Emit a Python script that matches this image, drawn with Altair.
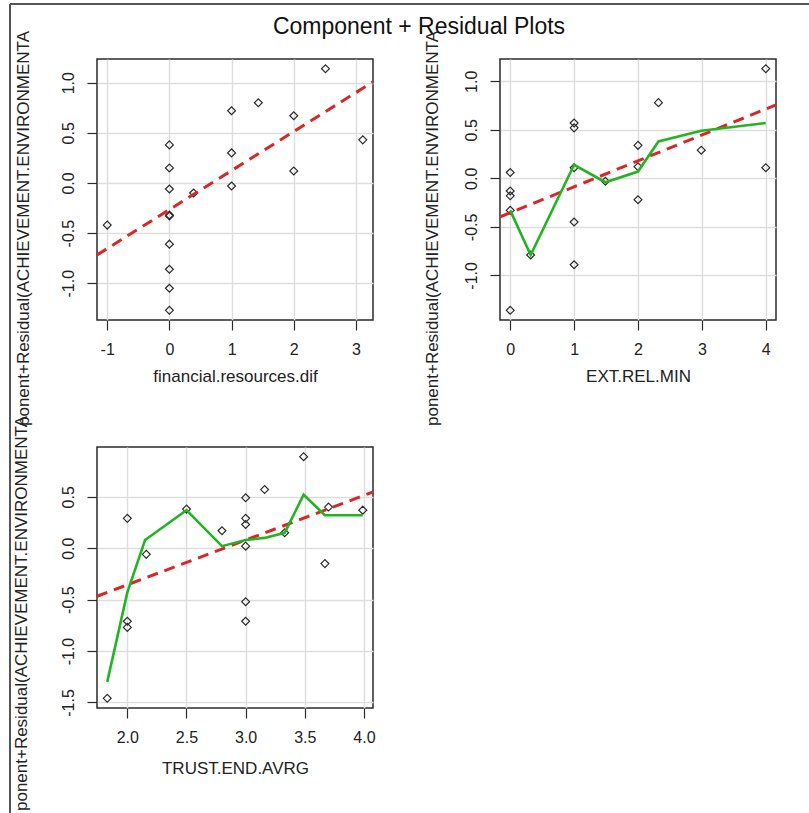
import altair as alt
import pandas as pd

TITLE = "Component + Residual Plots"
YLAB = "ponent+Residual(ACHIEVEMENT.ENVIRONMENTA"

# Panel 1: financial.resources.dif
p1_name = "financial.resources.dif"
p1_x = [-1.0, 0, 0, 0, 0, 0, 0, 0, 0, 0, 0.39, 1, 1, 1, 1.43, 2, 2, 2.51, 3.11]
p1_y = [-0.42, 0.38, 0.15, -0.06, -0.32, -0.33, -0.61, -0.86, -1.05, -1.27,
        -0.10, 0.72, 0.30, -0.03, 0.80, 0.67, 0.12, 1.14, 0.43]
p1_fit = (-0.265, 0.389)          # intercept, slope
p1_xticks = [-1, 0, 1, 2, 3]
p1_yticks = [-1.0, -0.5, 0.0, 0.5, 1.0]

# Panel 2: EXT.REL.MIN
p2_name = "EXT.REL.MIN"
p2_x = [0, 0, 0, 0, 0, 0.32, 1, 1, 1, 1, 1, 1.49, 2, 2, 2, 2.32, 2.99, 4, 4]
p2_y = [0.06, -0.13, -0.18, -0.33, -1.36, -0.79, 0.57, 0.52, 0.11, -0.45, -0.89,
        -0.03, 0.34, 0.12, -0.22, 0.78, 0.29, 1.13, 0.11]
p2_fit = (-0.354, 0.267)
p2_smooth_x = [0, 0.32, 1, 1.49, 2, 2.32, 2.99, 4]
p2_smooth_y = [-0.33, -0.79, 0.14, -0.04, 0.07, 0.38, 0.49, 0.57]
p2_xticks = [0, 1, 2, 3, 4]
p2_yticks = [-1.0, -0.5, 0.0, 0.5, 1.0]

# Panel 3: TRUST.END.AVRG
p3_name = "TRUST.END.AVRG"
p3_x = [1.83, 2, 2, 2, 2.16, 2.5, 2.80, 3, 3, 3, 3, 3, 3, 3.16, 3.33, 3.49, 3.70, 3.67, 3.99]
p3_y = [-1.46, 0.29, -0.71, -0.77, -0.06, 0.38, 0.17, 0.49, 0.29, 0.23, 0.02, -0.52,
        -0.71, 0.57, 0.15, 0.89, 0.40, -0.15, 0.37]
p3_fit = (-1.225, 0.4346)
p3_smooth_x = [1.83, 2.0, 2.15, 2.5, 2.80, 3.0, 3.16, 3.33, 3.49, 3.67, 3.99]
p3_smooth_y = [-1.30, -0.43, 0.08, 0.37, 0.02, 0.08, 0.10, 0.15, 0.52, 0.32, 0.32]
p3_xticks = [2.0, 2.5, 3.0, 3.5, 4.0]
p3_yticks = [-1.5, -1.0, -0.5, 0.0, 0.5]

FONT = "Liberation Sans"
W, H = 276, 261
RED = "#d92626"
GREEN = "#23b323"
INK = "#2b2b2b"
MINUS = "\u2212"


def rng(v):
    lo, hi = min(v), max(v)
    d = (hi - lo) * 0.04
    return [lo - d, hi + d]


def panel(xs, ys, fit, xname, xticks, yticks, xfmt, ytx, yty, xty,
          sx=None, sy=None, extras=()):
    xdom = rng(xs)
    ydom = rng(ys)
    xsc = alt.Scale(domain=xdom, nice=False, zero=False)
    ysc = alt.Scale(domain=ydom, nice=False, zero=False)
    xax = alt.Axis(
        values=xticks, title=xname,
        labelExpr=f"replace(format(datum.value, '{xfmt}'), '{MINUS}', '-')",
        titleY=xty, titleBaseline="middle", titleAnchor="middle",
    )
    yax = alt.Axis(
        values=yticks, title=YLAB,
        labelExpr=f"replace(format(datum.value, '.1f'), '{MINUS}', '-')",
        labelAngle=270, labelAlign="center", labelBaseline="bottom",
        titleAngle=270, titleX=ytx, titleY=yty,
        titleBaseline="middle", titleAlign="center",
    )
    pts = pd.DataFrame({"x": xs, "y": ys})
    points = alt.Chart(pts).mark_point(
        shape="diamond", filled=False, size=62, color=INK, strokeWidth=1.2, opacity=1
    ).encode(
        x=alt.X("x:Q", scale=xsc, axis=xax),
        y=alt.Y("y:Q", scale=ysc, axis=yax),
    )
    fitdf = pd.DataFrame({"x": xdom, "y": [fit[0] + fit[1] * v for v in xdom]})
    fitline = alt.Chart(fitdf).mark_line(
        color=RED, strokeDash=[11, 7], strokeWidth=3
    ).encode(x="x:Q", y="y:Q")
    layers = [points, fitline]
    if sx is not None:
        sm = pd.DataFrame({"x": sx, "y": sy})
        layers.append(
            alt.Chart(sm).mark_line(color=GREEN, strokeWidth=2.6).encode(x="x:Q", y="y:Q")
        )
    layers.extend(extras)
    return alt.layer(*layers).properties(width=W, height=H)


one = pd.DataFrame({"t": [TITLE]})
title_mark = alt.Chart(one).mark_text(
    font=FONT, fontSize=23, fontWeight="normal", color="#111",
    align="center", baseline="alphabetic"
).encode(text="t:N", x=alt.value(322), y=alt.value(-25))
frame_top = alt.Chart(one).mark_rule(color="#555", strokeWidth=2).encode(
    x=alt.value(-87), x2=alt.value(712), y=alt.value(-55))
frame_left = alt.Chart(one).mark_rule(color="#555", strokeWidth=2).encode(
    x=alt.value(-87), y=alt.value(-55), y2=alt.value(754))

c1 = panel(p1_x, p1_y, p1_fit, p1_name, p1_xticks, p1_yticks, "d",
           ytx=-74, yty=169, xty=56, extras=(title_mark, frame_top, frame_left))
c2 = panel(p2_x, p2_y, p2_fit, p2_name, p2_xticks, p2_yticks, "d",
           ytx=-68, yty=169, xty=56, sx=p2_smooth_x, sy=p2_smooth_y)
c3 = panel(p3_x, p3_y, p3_fit, p3_name, p3_xticks, p3_yticks, ".1f",
           ytx=-76, yty=166, xty=60, sx=p3_smooth_x, sy=p3_smooth_y)

chart = alt.concat(c1, c2, c3, columns=2, spacing=127, bounds="flush").properties(
    autosize=alt.AutoSizeParams(type="none"),
    padding={"left": 97, "top": 59, "right": 712, "bottom": 754},
    background="white",
).configure(font=FONT).configure_view(
    stroke=INK, strokeWidth=1.5
).configure_axis(
    domain=False,
    grid=True, gridColor="#dedede", gridWidth=1.5,
    tickSize=10, tickColor=INK, tickWidth=1.2,
    labelFont=FONT, labelFontSize=16, labelColor="#222", labelPadding=11,
    titleFont=FONT, titleFontSize=17, titleFontWeight="normal", titleColor="#222",
)

chart.save("out.html", embed_options={"renderer": "svg", "actions": False})
